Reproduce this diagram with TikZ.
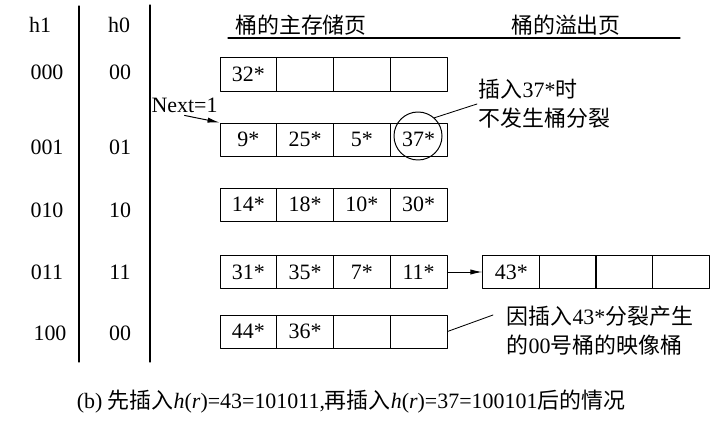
\documentclass[tikz,border=0pt]{standalone}
\usepackage{fontspec}
\setmainfont{Liberation Serif}
\newfontfamily\cjk{Noto Sans CJK SC}
\usetikzlibrary{arrows.meta}
\tikzset{
  every picture/.style={font=\fontsize{15.6}{20.6}\selectfont, line join=round, line cap=round, >=Latex},
  cell/.style={draw, line width=0.7pt, minimum width=1.419cm, minimum height=0.825cm, inner sep=0pt},
  lbl/.style={inner sep=0pt},
  note/.style={align=left, anchor=west, inner sep=1pt},
  ptr/.style={-{Latex[length=3mm,width=1.3mm]}, line width=0.7pt},
  rule/.style={line width=0.8pt},
}

\begin{document}
\begin{tikzpicture}[x=0.025cm, y=-0.025cm]
\useasboundingbox (0,0) rectangle (721,431);
% table columns
\node[lbl] (h1) at (40,25) {h1};
\node[lbl] (h0) at (119,25) {h0};
\draw[rule] (79,6) -- (79,362);
\draw[rule] (150,5) -- (150,362);
\node[lbl] (a0) at (47,72) {000};
\node[lbl] (b0) at (120,72) {00};
\node[lbl] (a1) at (47,147) {001};
\node[lbl] (b1) at (120,147) {01};
\node[lbl] (a2) at (47,210) {010};
\node[lbl] (b2) at (120,210) {10};
\node[lbl] (a3) at (47,272) {011};
\node[lbl] (b3) at (120,272) {11};
\node[lbl] (a4) at (50,333) {100};
\node[lbl] (b4) at (120,333) {00};
% headings
\node[lbl] (main) at (301,25) {\cjk 桶的主存储页};
\node[lbl] (over) at (566,25) {\cjk 桶的溢出页};
\draw[rule] (228,38) -- (680,38);
% primary pages
\node[cell] (r0c1) at (248.4,74.5) {32*};
\node[cell] (r0c2) at (305.1,74.5) {};
\node[cell] (r0c3) at (361.9,74.5) {};
\node[cell] (r0c4) at (418.6,74.5) {};
\node[cell] (r1c1) at (248.4,139.5) {9*};
\node[cell] (r1c2) at (305.1,139.5) {25*};
\node[cell] (r1c3) at (361.9,139.5) {5*};
\node[cell] (r1c4) at (418.6,139.5) {37*};
\node[cell] (r2c1) at (248.4,204.5) {14*};
\node[cell] (r2c2) at (305.1,204.5) {18*};
\node[cell] (r2c3) at (361.9,204.5) {10*};
\node[cell] (r2c4) at (418.6,204.5) {30*};
\node[cell] (r3c1) at (248.4,272) {31*};
\node[cell] (r3c2) at (305.1,272) {35*};
\node[cell] (r3c3) at (361.9,272) {7*};
\node[cell] (r3c4) at (418.6,272) {11*};
\node[cell] (r4c1) at (248.4,331.5) {44*};
\node[cell] (r4c2) at (305.1,331.5) {36*};
\node[cell] (r4c3) at (361.9,331.5) {};
\node[cell] (r4c4) at (418.6,331.5) {};
% overflow page
\node[cell] (o1) at (511.3,272) {43*};
\node[cell] (o2) at (567.8,272) {};
\node[cell] (o3) at (624.3,272) {};
\node[cell] (o4) at (680.8,272) {};
\draw[ptr] (r3c4.east) -- (o1.west);
% next pointer
\node[lbl, inner sep=2pt] (next) at (184.5,105) {Next=1};
\draw[ptr] (next.south) -- (r1c1.north west);
% notes
\node[draw, circle, line width=0.7pt, minimum size=1.2cm, inner sep=0pt] (hit) at (418,136) {};
\node[note] (note1) at (477,104) {{\cjk 插入}37*{\cjk 时}\\{\cjk 不发生桶分裂}};
\draw[line width=0.6pt] (hit.48) -- (note1.west);
\node[note] (note2) at (505,331) {{\cjk 因插入}43*{\cjk 分裂产生}\\{\cjk 的}00{\cjk 号桶的映像桶}};
\coordinate (tip2) at (493,315);
\draw[line width=0.6pt] (r4c4.east) -- (tip2);
% caption
\node[lbl] (cap) at (351,402) {(b) {\cjk 先插入}\textit{h}(\textit{r})=43=101011,{\cjk 再插入}\textit{h}(\textit{r})=37=100101{\cjk 后的情况}};
\end{tikzpicture}
\end{document}
